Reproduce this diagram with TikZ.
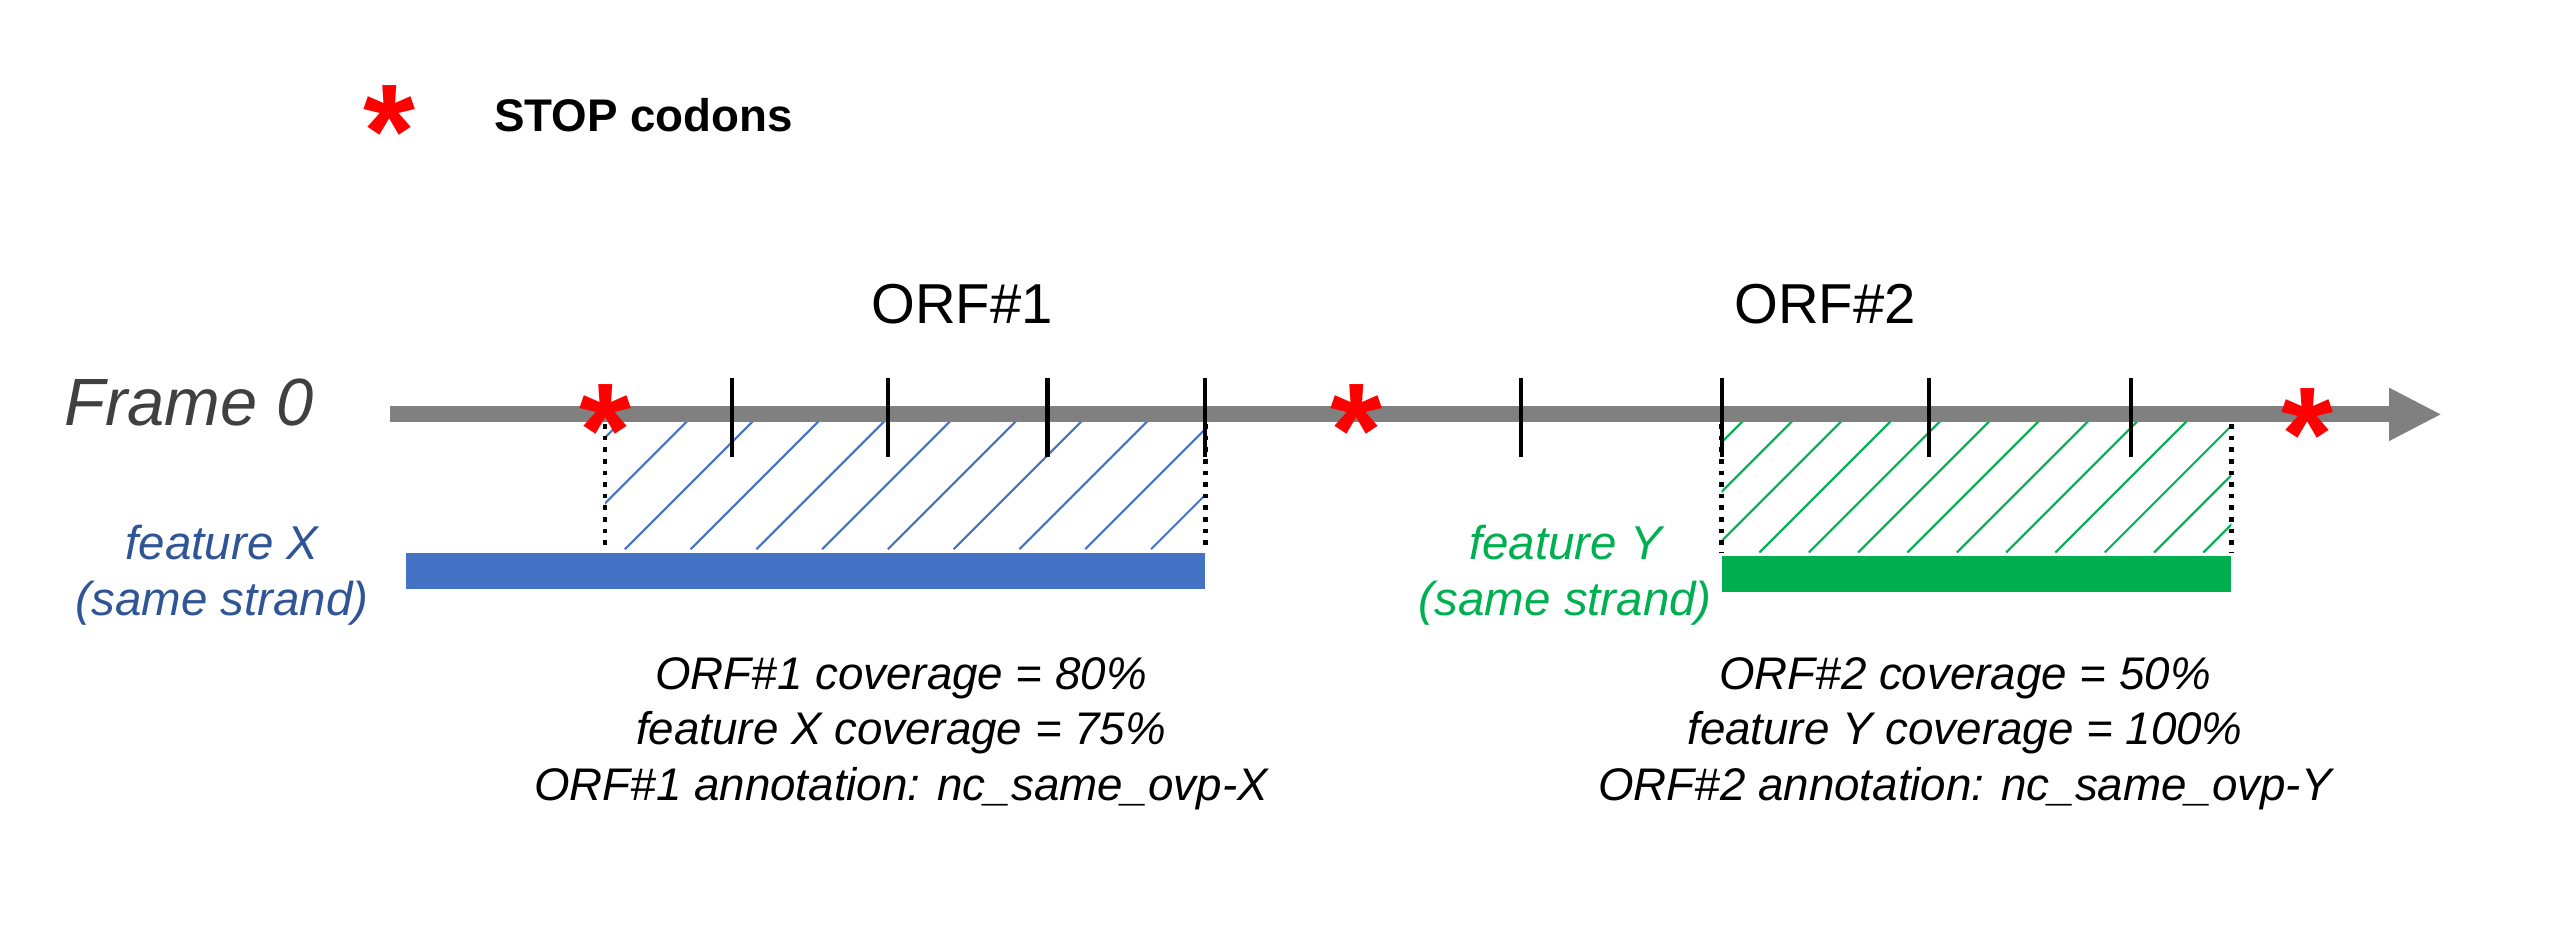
\documentclass[tikz,border=0pt]{standalone}
\usepackage{fontspec}
\setmainfont{Liberation Sans}
\usetikzlibrary{arrows.meta}
\definecolor{bl}{HTML}{4472C4}
\definecolor{dbl}{HTML}{2F5597}
\definecolor{gr}{HTML}{00B050}
\definecolor{ax}{HTML}{808080}
\begin{document}
\begin{tikzpicture}[x=0.01644cm,y=-0.01644cm,
  star/.style={text=red,font=\fontsize{38}{38}\selectfont\bfseries,inner sep=0},
  tick/.style={black,line width=1.2pt},
  lbl/.style={font=\fontsize{13.5}{16}\selectfont\itshape,align=center},
  dot/.style={black,dotted,line width=1.3pt}]
\useasboundingbox (0,0) rectangle (1552,566);
\node[star] (s0) at (237,80) {*};
\node[font=\fontsize{13}{16}\selectfont\bfseries,anchor=west] (stop) at (293,70) {STOP codons};
\node[font=\fontsize{16}{20}\selectfont] (o1) at (585,185) {ORF\#1};
\node[font=\fontsize{16}{20}\selectfont] (o2) at (1110,185) {ORF\#2};
\node[font=\fontsize{19}{24}\selectfont\itshape,text=black!75] (fr) at (115,245) {Frame 0};
\coordinate (a0) at (237,252); \coordinate (a1) at (1485,252);
% hatches
\begin{scope}
\clip (368,255) rectangle (733,334);
\foreach \i in {0,...,12}{\draw[bl,line width=0.6pt] (300+\i*40,334) -- ++(90,-90);}
\end{scope}
\begin{scope}
\clip (1047,255) rectangle (1357,336);
\foreach \i in {0,...,14}{\draw[gr,line width=0.6pt] (980+\i*30,336) -- ++(90,-90);}
\end{scope}
\draw[ax,line width=4.5pt,-{Triangle[length=15pt,width=14pt]}] (a0) -- (a1);
\foreach \x in {445,540,637,733,925,1047,1173,1296}{\draw[tick] (\x,230) -- (\x,278);}
\draw[dot] (368,258) -- (368,334);
\draw[dot] (733,258) -- (733,334);
\draw[dot] (1047,258) -- (1047,336);
\draw[dot] (1357,258) -- (1357,336);
\node[star] (s1) at (368,262) {*};
\node[star] (s2) at (825,262) {*};
\node[star] (s3) at (1403,264) {*};
\fill[bl] (247,336) rectangle (733,358);
\fill[gr] (1047,338) rectangle (1357,360);
\node[lbl,text=dbl] (fx) at (135,350) {feature X\\(same strand)};
\node[lbl,text=gr] (fy) at (952,350) {feature Y\\(same strand)};
\node[lbl,font=\fontsize{13}{15.8}\selectfont\itshape] (t1) at (548,446) {ORF\#1 coverage = 80\%\\feature X coverage = 75\%\\ORF\#1 annotation: nc\_same\_ovp-X};
\node[lbl,font=\fontsize{13}{15.8}\selectfont\itshape] (t2) at (1195,446) {ORF\#2 coverage = 50\%\\feature Y coverage = 100\%\\ORF\#2 annotation: nc\_same\_ovp-Y};
\end{tikzpicture}
\end{document}
